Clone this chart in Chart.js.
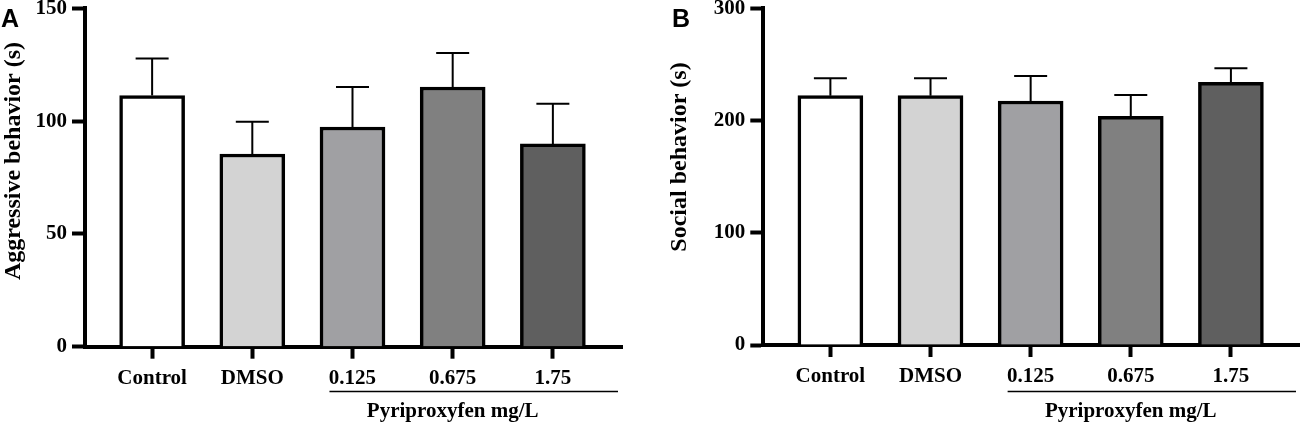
<!DOCTYPE html>
<html><head><meta charset="utf-8">
<script src="https://cdn.jsdelivr.net/npm/chart.js@4"></script>
<style>
html,body{margin:0;padding:0;background:#fff;}
#wrap{position:relative;width:1300px;height:422px;overflow:hidden;background:#fff;}
.panel{position:absolute;top:0;height:422px;}
</style></head><body>
<div id="wrap">
<div class="panel" style="left:0;width:650px"><canvas id="cA"></canvas></div>
<div class="panel" style="left:650px;width:650px"><canvas id="cB"></canvas></div>
</div>
<script>
const categories = ['Control', 'DMSO', '0.125', '0.675', '1.75'];
const aggressiveMean = [111.3, 85.4, 97.4, 115.1, 89.9];
const aggressiveSem = [16.4, 14.3, 17.7, 15.1, 17.8];
const socialMean = [222.2, 222.2, 217.5, 203.8, 234.1];
const socialSem = [15.5, 15.5, 22.2, 19.0, 12.5];
const aggressiveTicks = [0, 50, 100, 150];
const socialTicks = [0, 100, 200, 300];
const barColors = ['#ffffff', '#d3d3d3', '#a0a0a3', '#808080', '#5f5f5f'];
const groupLabel = 'Pyriproxyfen mg/L';

const SERIF = "'Liberation Serif', 'Times New Roman', serif";

function makeChart(id, cfg) {
  const extras = {
    id: 'extras' + id,
    afterDatasetsDraw(chart) {
      const ctx = chart.ctx, xs = chart.scales.x, ys = chart.scales.y;
      ctx.save();
      ctx.strokeStyle = '#000';
      ctx.lineWidth = 2;
      cfg.means.forEach((m, i) => {
        const x = xs.getPixelForValue(i);
        const y0 = ys.getPixelForValue(m);
        const y1 = ys.getPixelForValue(m + cfg.sems[i]);
        ctx.beginPath();
        ctx.moveTo(x, y0);
        ctx.lineTo(x, y1);
        ctx.moveTo(x - 16.5, y1);
        ctx.lineTo(x + 16.5, y1);
        ctx.stroke();
      });
      ctx.restore();
    },
    afterDraw(chart) {
      const ctx = chart.ctx, xs = chart.scales.x;
      ctx.save();
      ctx.fillStyle = '#000';
      ctx.strokeStyle = '#000';
      ctx.lineWidth = 1.5;
      ctx.beginPath();
      ctx.moveTo(xs.getPixelForValue(1.77), 391.5);
      ctx.lineTo(xs.getPixelForValue(4.65), 391.5);
      ctx.stroke();
      ctx.font = 'bold 21px ' + SERIF;
      ctx.textAlign = 'center';
      ctx.textBaseline = 'alphabetic';
      ctx.fillText(groupLabel, xs.getPixelForValue(3), 417);
      ctx.save();
      ctx.translate(cfg.titleX, cfg.titleY);
      ctx.rotate(-Math.PI / 2);
      ctx.font = 'bold 24px ' + SERIF;
      ctx.textAlign = 'center';
      ctx.textBaseline = 'middle';
      ctx.fillText(cfg.yTitle, 0, 0);
      ctx.restore();
      ctx.font = "bold 25px 'Liberation Sans', Arial, sans-serif";
      ctx.textAlign = 'left';
      ctx.textBaseline = 'alphabetic';
      ctx.fillText(cfg.letter, cfg.letterX, 27);
      ctx.restore();
    }
  };

  return new Chart(document.getElementById(id), {
    type: 'bar',
    data: {
      datasets: [{
        data: categories.map((c, i) => ({ x: i, y: cfg.means[i] })),
        backgroundColor: barColors,
        borderColor: '#000',
        borderWidth: 3.5,
        barThickness: 65
      }]
    },
    options: {
      responsive: true,
      maintainAspectRatio: false,
      animation: false,
      events: [],
      layout: { padding: { top: cfg.top, right: cfg.right, left: 0, bottom: 0 } },
      plugins: { legend: { display: false }, tooltip: { enabled: false } },
      scales: {
        x: {
          type: 'linear',
          min: -0.67,
          max: 4.69,
          offset: false,
          z: 1,
          afterBuildTicks: s => { s.ticks = categories.map((c, i) => ({ value: i })); },
          afterFit: s => { s.height = cfg.xHeight; s.paddingLeft = 0; s.paddingRight = 0; },
          grid: { display: true, offset: false, drawOnChartArea: false, drawTicks: true, tickLength: 12, tickWidth: 4, tickColor: '#000' },
          border: { display: true, width: 4, color: '#000' },
          ticks: {
            autoSkip: false, maxRotation: 0, minRotation: 0, padding: 7, color: '#000',
            font: { family: SERIF, size: 21, weight: 'bold' },
            callback: v => categories[Math.round(v)]
          }
        },
        y: {
          min: 0,
          max: cfg.yMax,
          z: 1,
          afterBuildTicks: s => { s.ticks = cfg.yTicks.map(v => ({ value: v })); },
          afterFit: s => { s.width = cfg.yWidth; s.paddingTop = 0; s.paddingBottom = 0; },
          grid: { display: true, drawOnChartArea: false, drawTicks: true, tickLength: 13, tickWidth: 4, tickColor: '#000' },
          border: { display: true, width: 4, color: '#000' },
          ticks: {
            padding: 5, color: '#000',
            font: { family: SERIF, size: 21, weight: 'bold' }
          }
        }
      }
    },
    plugins: [extras]
  });
}

makeChart('cA', {
  means: aggressiveMean, sems: aggressiveSem, yMax: 150, yTicks: aggressiveTicks,
  yTitle: 'Aggressive behavior (s)', titleX: 13.5, titleY: 161,
  yWidth: 85, xHeight: 75.3, top: 8.3, right: 28, letter: 'A', letterX: 1
});
makeChart('cB', {
  means: socialMean, sems: socialSem, yMax: 300, yTicks: socialTicks,
  yTitle: 'Social behavior (s)', titleX: 30, titleY: 157,
  yWidth: 113.3, xHeight: 77, top: 8.4, right: 0, letter: 'B', letterX: 22
});
</script>
</body></html>
